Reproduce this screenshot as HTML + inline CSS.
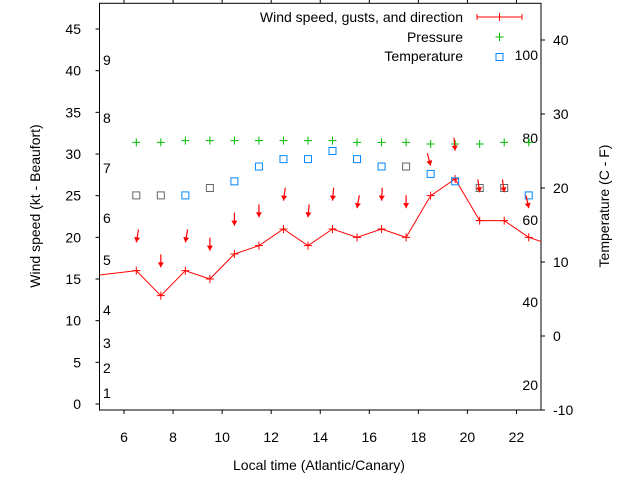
<!DOCTYPE html>
<html><head><meta charset="utf-8"><style>
html,body{margin:0;padding:0;background:#fff;}
svg{display:block;font-family:"Liberation Sans",sans-serif;}
</style></head><body>
<svg id="chart" width="640" height="480" viewBox="0 0 640 480" xmlns="http://www.w3.org/2000/svg"></svg>
<script>
const hours=[4.5,6.5,7.5,8.5,9.5,10.5,11.5,12.5,13.5,14.5,15.5,16.5,17.5,18.5,19.5,20.5,21.5,22.5,23.5];
const windSpeed=[15.3,16,13,16,15,18,19,21,19,21,20,21,20,25,27,22,22,20,19];
const obsHours=[6.5,7.5,8.5,9.5,10.5,11.5,12.5,13.5,14.5,15.5,16.5,17.5,18.5,19.5,20.5,21.5,22.5];
const gusts=[19.4,16.4,19.4,18.4,21.4,22.4,24.4,22.4,24.4,23.5,24.4,23.5,28.6,30.4,25.4,25.4,23.5];
const gustDir=[10,0,10,0,0,0,8,5,5,10,3,0,-15,-5,-8,-8,-12];
const pressure=[31.4,31.4,31.6,31.6,31.6,31.6,31.6,31.6,31.6,31.4,31.4,31.4,31.2,31.2,31.2,31.4,31.4];
const tempC=[19,19,19,20,20.9,22.9,23.9,23.9,25,23.9,22.9,22.9,21.9,20.9,20,20,19];
const tempGray=[1,1,0,1,0,0,0,0,0,0,0,1,0,0,1,1,0];
const leftTicks=[0,5,10,15,20,25,30,35,40,45];
const rightTicks=[-10,0,10,20,30,40];
const xTicks=[6,8,10,12,14,16,18,20,22];
const beaufort=[[1,393],[2,368],[3,343],[4,310],[5,260],[6,218],[7,168],[8,118],[9,60]];
const fahr=[[20,385],[40,302],[60,220],[80,138],[100,55]];

const L=99.5,R=541,T=3.3,B=410;
const X=h=>L+(h-5)*(R-L)/18;
const Y=v=>404-v*8.333;
const YR=c=>410-(c+10)*7.4;
const svg=document.getElementById('chart');
const NS='http://www.w3.org/2000/svg';
function mk(tag,attrs,parent){const e=document.createElementNS(NS,tag);for(const k in attrs)e.setAttribute(k,attrs[k]);(parent||svg).appendChild(e);return e;}
function txt(s,x,y,anchor,extra){const e=mk('text',Object.assign({x:x,y:y,'font-size':14,'text-anchor':anchor||'start',fill:'#000'},extra||{}));e.textContent=s;return e;}

// clip
const defs=mk('defs',{});const cp=mk('clipPath',{id:'clip'},defs);mk('rect',{x:L,y:T,width:R-L,height:B-T},cp);

// frame
const frame=mk('rect',{x:L,y:T,width:R-L,height:B-T,fill:'none',stroke:'#000','stroke-width':1});


leftTicks.forEach(v=>{const y=Y(v);mk('line',{x1:L-4,x2:L,y1:y,y2:y,stroke:'#000'});
 const t=txt(String(v),81,y+5,'end');});
rightTicks.forEach(v=>{const y=YR(v);mk('line',{x1:R,x2:R+4,y1:y,y2:y,stroke:'#000'});
 const t=txt(String(v),553,y+5,'start');});
xTicks.forEach(v=>{const x=X(v);mk('line',{x1:x,x2:x,y1:B,y2:B+4,stroke:'#000'});mk('line',{x1:x,x2:x,y1:T-4,y2:T,stroke:'#000'});
 const t=txt(String(v),x,442,'middle');});
beaufort.forEach(b=>{const t=txt(String(b[0]),103,b[1]+5,'start');});
fahr.forEach(f=>{const t=txt(String(f[0]),538,f[1]+5,'end');});

const g=mk('g',{'clip-path':'url(#clip)'});
// wind line
const wl=mk('polyline',{points:hours.map((h,i)=>X(h)+','+Y(windSpeed[i])).join(' '),fill:'none',stroke:'#f00','stroke-width':1},g);

hours.forEach((h,i)=>{const x=X(h),y=Y(windSpeed[i]);
 const p=mk('path',{d:`M${x-4},${y}H${x+4}M${x},${y-4}V${y+4}`,stroke:'#f00'},g);
 });
// pressure
obsHours.forEach((h,i)=>{const x=X(h),y=Y(pressure[i]);
 const p=mk('path',{d:`M${x-4},${y}H${x+4}M${x},${y-4}V${y+4}`,stroke:'#0b0'},g);
 });
// temperature
obsHours.forEach((h,i)=>{const x=X(h),y=YR(tempC[i]);
 const r=mk('rect',{x:x-3.5,y:y-3.5,width:7,height:7,fill:'none',stroke:tempGray[i]?'#666':'#08f','stroke-width':1},g);
 });
// gust arrows
obsHours.forEach((h,i)=>{const x=X(h),y=Y(gusts[i]);const a=gustDir[i]*Math.PI/180;
 const x0=x+Math.sin(a)*13,y0=y-Math.cos(a)*13;
 const ar=mk('g',{},g);
 mk('line',{x1:x0,y1:y0,x2:x,y2:y,stroke:'#f00','stroke-width':1.2},ar);
 const px=Math.cos(a),py=Math.sin(a);const bx=x-Math.sin(a)*-5,by=y-Math.cos(a)*5;
 const bx2=x+Math.sin(a)*5,by2=y-Math.cos(a)*5;
 mk('polygon',{points:`${x},${y} ${bx2-px*3},${by2-py*3} ${bx2+px*3},${by2+py*3}`,fill:'#f00'},ar);});

// legend
let t=txt('Wind speed, gusts, and direction',463,22,'end');
const lw=mk('path',{d:'M477,17H522M477,14V20M522,14V20M499.5,13V21',stroke:'#f00'});
t=txt('Pressure',463,42,'end');
const lp=mk('path',{d:'M495.5,37H503.5M499.5,33V41',stroke:'#0b0'});
t=txt('Temperature',463,61,'end');
const lt=mk('rect',{x:496,y:53.5,width:7,height:7,fill:'none',stroke:'#08f'});

// axis titles
t=txt('Local time (Atlantic/Canary)',319,470,'middle');
t=txt('Wind speed (kt - Beaufort)',0,0,'middle',{transform:'translate(40,206) rotate(-90)'});
t=txt('Temperature (C - F)',0,0,'middle',{transform:'translate(609,206) rotate(-90)'});
</script>
</body></html>
